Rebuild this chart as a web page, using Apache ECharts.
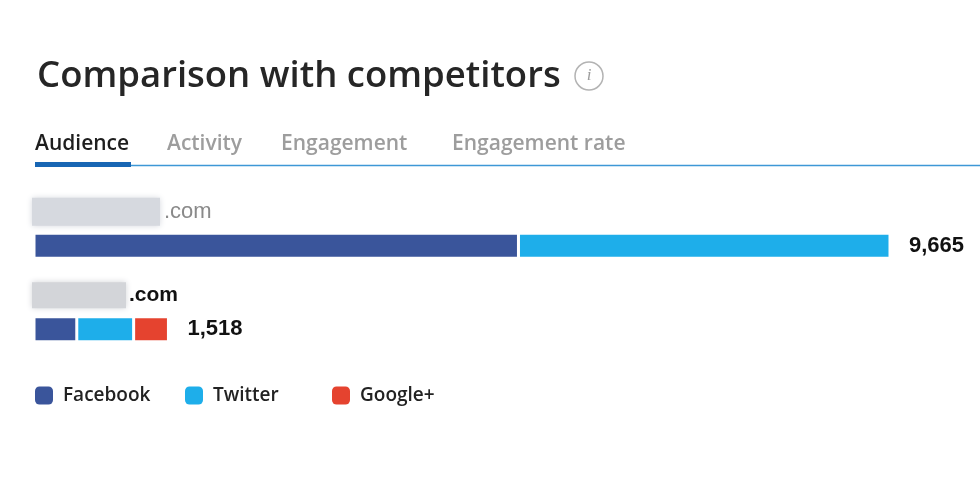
<!DOCTYPE html>
<html>
<head>
  <meta charset="utf-8">
  <title>Comparison with competitors</title>
  <script src="https://cdn.jsdelivr.net/npm/echarts@6/dist/echarts.min.js"></script>
  <style>
    html, body { margin: 0; padding: 0; background: #fff; }
    #main { width: 980px; height: 481px; }
  </style>
</head>
<body>
<div id="main"></div>
<script>
  // data (domain names are blurred in the source, only ".com" is visible)
  var categories = ['competitor-one.com', 'competitor-two.com'];
  var facebook = [5470, 483];
  var twitter = [4195, 642];
  var googlePlus = [0, 393];
  var tabs = ['Audience', 'Activity', 'Engagement', 'Engagement rate'];
  var totals = categories.map(function (c, i) {
    return facebook[i] + twitter[i] + googlePlus[i];
  });

  var colors = ['#3a559b', '#1eaeea', '#e5432f'];
  var uiFont = '"Open Sans", "Noto Sans", sans-serif';
  var numFont = '"Liberation Sans", Arial, sans-serif';
  var tabX = [35, 167, 281, 452];

  var chart = echarts.init(document.getElementById('main'));

  function seg(name, data, i) {
    return {
      name: name, type: 'bar', stack: 'a', data: data, barWidth: 25,
      itemStyle: { color: colors[i], borderColor: '#fff', borderWidth: 1.5 },
      silent: true
    };
  }

  var tabGraphics = tabs.map(function (t, i) {
    return {
      type: 'text', left: tabX[i], top: 134,
      style: { text: t, font: '600 21px ' + uiFont, fill: i === 0 ? '#1e1e1e' : '#9d9d9d' }
    };
  });

  var option = {
    animation: false,
    title: {
      text: 'Comparison with competitors',
      left: 32, top: 53,
      textStyle: { fontFamily: uiFont, fontSize: 36.5, fontWeight: 600, color: '#262626' }
    },
    grid: { left: 34, right: 90, top: 204, height: 167 },
    xAxis: { type: 'value', show: false, min: 0, max: 'dataMax' },
    yAxis: {
      type: 'category', data: categories, inverse: true,
      axisLine: { show: false }, axisTick: { show: false },
      axisLabel: {
        inside: true, margin: -2, verticalAlign: 'middle',
        padding: [0, 0, 68, 0],
        formatter: function (v, i) {
          return '{blur' + i + '|}{name' + i + '|' + v.slice(v.lastIndexOf('.')) + '}';
        },
        rich: {
          blur0: { width: 128, height: 28, backgroundColor: '#d6d9df', shadowBlur: 6, shadowColor: '#d6d9df' },
          blur1: { width: 94, height: 26, backgroundColor: '#d3d5d9', shadowBlur: 6, shadowColor: '#d3d5d9' },
          name0: { color: '#8a8a8a', fontSize: 22, fontFamily: numFont, padding: [0, 0, 0, 4] },
          name1: { color: '#111', fontSize: 21, fontWeight: 'bold', fontFamily: numFont, padding: [0, 0, 0, 3] }
        }
      }
    },
    legend: [
      { data: ['Facebook'], left: 35 },
      { data: ['Twitter'], left: 185 },
      { data: ['Google+'], left: 332 }
    ].map(function (l) {
      return Object.assign(l, {
        top: 386, padding: 0, icon: 'roundRect', itemWidth: 18, itemHeight: 18, selectedMode: false,
        itemStyle: { borderWidth: 0 },
        textStyle: { fontFamily: uiFont, fontSize: 19, fontWeight: 600, color: '#222', padding: [0, 0, 0, 5] }
      });
    }),
    series: [
      seg('Facebook', facebook, 0),
      seg('Twitter', twitter, 1),
      seg('Google+', googlePlus, 2),
      {
        name: 'Total', type: 'bar', stack: 'a', barWidth: 25, silent: true,
        data: totals.map(function () { return 0; }),
        itemStyle: { color: 'transparent', borderWidth: 0 },
        label: {
          show: true, position: 'right', distance: 19,
          fontFamily: numFont, fontSize: 22, fontWeight: 'bold', color: '#111',
          formatter: function (p) { return totals[p.dataIndex].toLocaleString('en-US'); }
        }
      }
    ],
    graphic: tabGraphics.concat([
      { type: 'circle', shape: { cx: 589, cy: 76, r: 14 }, style: { fill: 'none', stroke: '#b3b3b3', lineWidth: 1.5 } },
      { type: 'text', x: 589, y: 76, style: { text: 'i', font: 'italic 17px serif', fill: '#9c9c9c', align: 'center', verticalAlign: 'middle' } },
      { type: 'line', shape: { x1: 35, y1: 165.5, x2: 980, y2: 165.5 }, style: { stroke: '#3d98d6', lineWidth: 1.5 } },
      { type: 'rect', shape: { x: 35, y: 162, width: 96, height: 5 }, style: { fill: '#1866b4' } }
    ])
  };

  chart.setOption(option);
  window.onresize = function () { chart.resize(); };
</script>
</body>
</html>
